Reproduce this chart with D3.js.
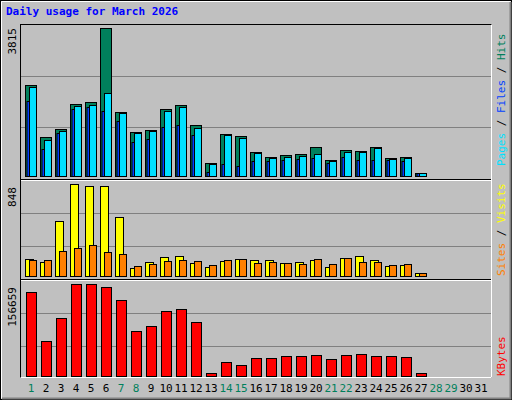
<!DOCTYPE html><html><head><meta charset="utf-8">
<script src="https://cdn.jsdelivr.net/npm/d3@7"></script>
<style>body{margin:0;background:#fff}text{font-family:"DejaVu Sans Mono",monospace}</style></head><body>
<script>
const days=d3.range(1,32);
const weekend=[1,7,8,14,15,21,22,28,29];
const hits=[2353,1003,1220,1860,1912,3815,1652,1133,1185,1730,1834,1315,329,1081,1029,614,493,536,562,744,407,666,640,744,458,484,69];
const files=[2301,926,1159,1808,1834,2145,1626,1107,1159,1678,1782,1237,303,1055,977,588,458,484,510,562,381,614,614,718,432,458,69];
const pages=[1946,692,1107,1730,1782,1678,1419,874,952,1263,1315,1055,95,303,251,381,381,407,432,458,329,484,407,407,407,381,69];
const visits=[157,129,507,848,829,829,544,74,129,175,184,120,83,138,157,147,147,120,129,147,83,166,184,147,92,101,28];
const sites=[147,147,230,258,286,221,203,92,111,138,147,138,101,147,157,120,129,120,111,157,111,166,129,129,101,111,28];
const kbytes=[142925,58885,98332,156659,156659,151500,129204,76036,84612,110338,113768,91471,5717,24583,19438,31444,31444,34874,34874,36589,29729,36589,38304,34874,34874,33159,5717];
const maxLabels=["3815","848","156659"];

const svg=d3.select("body").append("svg").attr("width",512).attr("height",400);
svg.append("rect").attr("width",512).attr("height",400).attr("fill","#C0C0C0");
svg.append("rect").attr("x",0.5).attr("y",0.5).attr("width",511).attr("height",399).attr("fill","none").attr("stroke","#000");
svg.append("polyline").attr("points","1.5,398.5 1.5,1.5 510.5,1.5").attr("fill","none").attr("stroke","#fff");
svg.append("polyline").attr("points","2,398.5 510.5,398.5 510.5,2").attr("fill","none").attr("stroke","#808080").attr("stroke-width",2);
svg.append("text").attr("x",6).attr("y",15).attr("fill","#0000FF").attr("font-size",11).attr("font-weight","bold").text("Daily usage for March 2026");

const x=d3.scaleLinear().domain([1,31]).range([25,475]);
svg.append("rect").attr("x",20.5).attr("y",24.5).attr("width",471).attr("height",353).attr("fill","none").attr("stroke","#000");
svg.append("polyline").attr("points","491.5,24.5 491.5,377.5 20.5,377.5").attr("fill","none").attr("stroke","#fff");
const panels=[{top:25,base:176,max:3815,h:148,bottomLine:179.5,grid:[127.5,76.5]},
              {top:184,base:276,max:848,h:92,bottomLine:279.5,grid:[246.5,213.5]},
              {top:284,base:376,max:156659,h:92,bottomLine:null,grid:[346.5,313.5]}];
panels.forEach((p,i)=>{
  p.y=d3.scaleLinear().domain([0,p.max]).range([p.base,p.base-p.h]);
  p.grid.forEach(g=>svg.append("line").attr("x1",21).attr("x2",491).attr("y1",g).attr("y2",g).attr("stroke","#808080"));
  if(p.bottomLine){svg.append("line").attr("x1",21).attr("x2",491).attr("y1",p.bottomLine).attr("y2",p.bottomLine).attr("stroke","#000");
          svg.append("line").attr("x1",21).attr("x2",491).attr("y1",p.bottomLine+1).attr("y2",p.bottomLine+1).attr("stroke","#fff");}
  svg.append("text").attr("transform",`translate(16,${p.top+3}) rotate(-90)`).attr("text-anchor","end").attr("font-size",11).attr("fill","#000").text(maxLabels[i]);
});
function bars(data,p,dx,w,fill){
  svg.append("g").selectAll("rect").data(data).join("rect")
   .attr("x",(d,i)=>x(i+1)+dx+0.5).attr("width",w)
   .attr("y",d=>Math.round(p.y(d))+0.5).attr("height",d=>Math.max(0,p.base-Math.round(p.y(d))))
   .attr("fill",fill).attr("stroke","#000");
}
bars(hits,panels[0],0,11,"#00805C");
bars(pages,panels[0],1.5,3,"#0040FF");
bars(files,panels[0],4,7,"#00E0FF");
bars(visits,panels[1],0,8,"#FFFF00");
bars(sites,panels[1],4,7,"#FF8000");
bars(kbytes,panels[2],1,10,"#FF0000");

svg.append("g").selectAll("text").data(days).join("text")
 .attr("x",d=>x(d)+6).attr("y",392).attr("text-anchor","middle").attr("font-size",11)
 .attr("fill",d=>weekend.includes(d)?"#00805C":"#000").text(d=>d);

function rlabel(parts,yb){
  const t=svg.append("text").attr("transform",`translate(505,${yb}) rotate(-90)`).attr("font-size",11).attr("xml:space","preserve");
  parts.forEach(([s,c])=>t.append("tspan").attr("fill",c).text(s));
}
rlabel([["Pages","#00E0FF"],[" / ","#000"],["Files","#0040FF"],[" / ","#000"],["Hits","#00805C"]],166);
rlabel([["Sites","#FF8000"],[" / ","#000"],["Visits","#FFFF00"]],276);
rlabel([["KBytes","#FF0000"]],376);
</script></body></html>
